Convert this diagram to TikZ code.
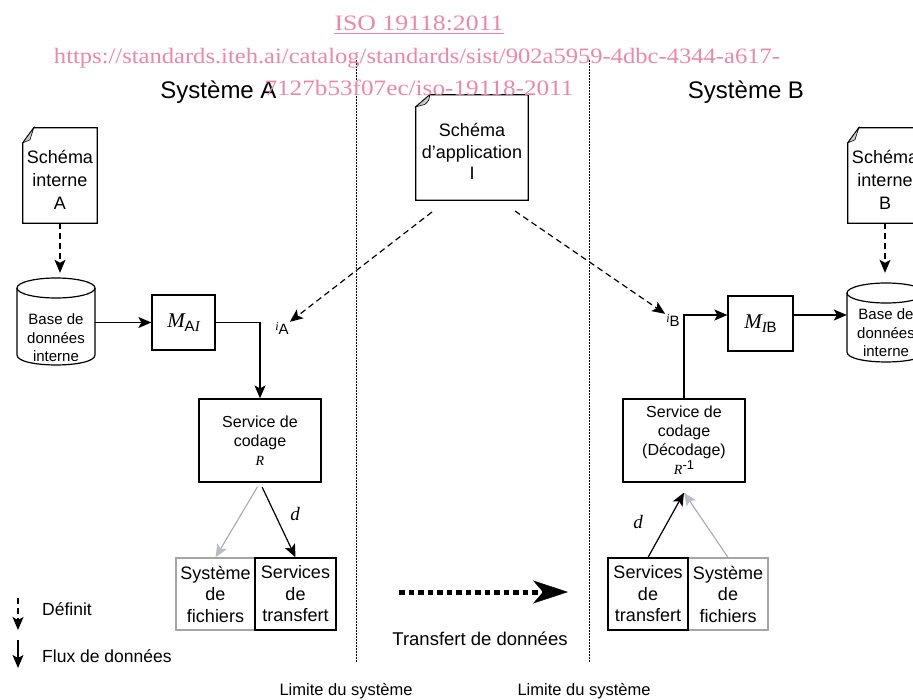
\documentclass[tikz,border=0pt]{standalone}
\usepackage{fontspec}
\usepackage{graphicx}
\setmainfont{Liberation Sans}
\newfontfamily\tms{Liberation Serif}
\usetikzlibrary{arrows.meta,calc}
\definecolor{wmpink}{RGB}{238,134,170}
\definecolor{gline}{RGB}{165,170,178}
\definecolor{ghead}{RGB}{185,190,198}
\definecolor{gbox}{RGB}{165,165,165}
\definecolor{foldc}{RGB}{200,202,208}
\newcommand\fs[2]{\fontsize{#1}{#2}\selectfont}
\newcommand\docpage[3]{%
  \coordinate (#1P) at ($(#1.north west)+(0,#3)$);
  \coordinate (#1Q) at ($(#1.north west)+(#2,0)$);
  \draw[ln] (#1Q) -- (#1.north east) -- (#1.south east) -- (#1.south west) -- (#1P) -- cycle;
  \filldraw[line width=0.6pt, fill=foldc] (#1Q) .. controls ($(#1Q)+(-1,6)$) .. ($(#1P)+(0.65*#2,-0.2*#3)$) -- (#1P) -- cycle;
}
\begin{document}
\begin{tikzpicture}[x=1pt,y=-1pt,
  ln/.style={line width=1.2pt},
  tip/.style={-{Stealth[length=13pt,width=11pt,inset=3pt]}},
  flow/.style={ln, tip},
  defarrow/.style={ln, dash pattern=on 6pt off 4pt, tip},
  gflow/.style={line width=1.1pt, draw=gline, -{Stealth[length=13pt,width=11pt,inset=3pt,color=ghead]}},
  bound/.style={line width=1pt, dash pattern=on 1.5pt off 1.5pt},
  box/.style={draw, line width=1.2pt, inner sep=0, align=center},
  gbx/.style={draw=gbox, line width=1.2pt, inner sep=0, align=center},
  plain/.style={inner sep=0, align=center},
  shapeonly/.style={inner sep=0},
  wmtext/.style={inner sep=0, anchor=base, text=wmpink}
]
\useasboundingbox (0,0) rectangle (913,699);
\clip (0,0) rectangle (913,699);

% titles
\node[plain, anchor=base, font=\fs{24}{24}] (sysA) at (218.5,98) {Système A};
\node[plain, anchor=base, font=\fs{24}{24}] (sysB) at (746,98) {Système B};

% system boundaries
\coordinate (bLt) at (356,60); \coordinate (bLb) at (356,662);
\coordinate (bRt) at (589,60); \coordinate (bRb) at (589,662);
\draw[bound] (bLt) -- (bLb);
\draw[bound] (bRt) -- (bRb);

% documents
\node[shapeonly, minimum width=74pt, minimum height=95pt] (docA) at (60,175.5) {};
\docpage{docA}{11}{15}
\node[plain, font=\fs{18}{23}] (docAt) at (60,179.5) {Schéma\\interne\\A};

\node[shapeonly, minimum width=74pt, minimum height=95pt] (docB) at (885,175.5) {};
\docpage{docB}{11}{15}
\node[plain, font=\fs{18}{23}] (docBt) at (885,179.5) {Schéma\\interne\\B};

\node[shapeonly, minimum width=112pt, minimum height=105pt] (app) at (472,147.5) {};
\docpage{app}{14}{12}
\node[plain, font=\fs{18}{21.5}] (appt) at (472,151.7) {Schéma\\d’application\\I};

% cylinders
\node[shapeonly, minimum width=78pt, minimum height=87pt] (cylA) at (56,321.5) {};
\draw[ln] (17,288) -- (17,355) .. controls (17,368.3) and (95,368.3) .. (95,355) -- (95,288);
\draw[ln] (56,288) ellipse [x radius=39pt, y radius=10pt];
\node[plain, font=\fs{15}{18.5}] (cylAt) at (56,338) {Base de\\données\\interne};

\node[shapeonly, minimum width=78pt, minimum height=79pt] (cylB) at (886,322.5) {};
\draw[ln] (847,293) -- (847,352) .. controls (847,365.3) and (925,365.3) .. (925,352) -- (925,293);
\draw[ln] (886,293) ellipse [x radius=39pt, y radius=10pt];
\node[plain, font=\fs{15}{18.5}] (cylBt) at (886,333) {Base de\\données\\interne};

% mapping boxes
\node[box, minimum width=63pt, minimum height=55pt] (mai) at (183.5,322.5)
  {{\fs{21}{21}\tms\itshape M}\raisebox{-4pt}{\fs{15}{15}A{\tms\itshape I}}};
\node[box, minimum width=65pt, minimum height=55pt] (mib) at (760.5,323.5)
  {{\fs{21}{21}\tms\itshape M}\raisebox{-4pt}{\fs{15}{15}{\tms\itshape I}B}};

% coding services
\node[box, minimum width=122pt, minimum height=83pt, font=\fs{16}{19}] (svcA) at (260,440.5)
  {Service de\\codage\\{\fs{14}{19}\tms\itshape R}};
\node[box, minimum width=122pt, minimum height=83pt, font=\fs{16}{19}] (svcB) at (684,440.5)
  {Service de\\codage\\(Décodage)\\{\fs{14}{19}\tms\itshape R}\raisebox{5pt}{\fs{13}{13}-1}};

% bottom boxes
\node[gbx, minimum width=79pt, minimum height=72pt, font=\fs{18}{21.5}] (fsA) at (215.5,594) {Système\\de\\fichiers};
\node[box, minimum width=81pt, minimum height=72pt, font=\fs{18}{21.5}] (tsA) at (295.5,594) {Services\\de\\transfert};
\node[gbx, minimum width=80pt, minimum height=72pt, font=\fs{18}{21.5}] (fsB) at (728,594) {Système\\de\\fichiers};
\node[box, minimum width=80pt, minimum height=72pt, font=\fs{18}{21.5}] (tsB) at (648,594) {Services\\de\\transfert};

% interface labels
\node[inner sep=1pt] (iA) at (282,329) {\raisebox{4pt}{\fs{12}{12}\tms\itshape i}\fs{15}{15}A};
\node[inner sep=1pt] (iB) at (673,321) {\raisebox{4pt}{\fs{12}{12}\tms\itshape i}\fs{15}{15}B};

% d labels
\node[plain, font=\fs{19}{19}\tms\itshape] (dA) at (295,514) {d};
\node[plain, font=\fs{19}{19}\tms\itshape] (dB) at (638,522) {d};

% connectors
\draw[defarrow, shorten >=5pt] (docA.south) -- (docA.south |- cylA.north);
\draw[defarrow, shorten >=10pt] (docB.south) -- (docB.south |- cylB.north);
\coordinate (appL) at (432,212);
\coordinate (appR) at (515,211);
\draw[defarrow] (appL) -- (iA.north east);
\draw[defarrow] (appR) -- (iB.north west);

\draw[flow] (cylA.east |- mai.west) -- (mai.west);
\draw[flow] (mai.east) -| (svcA.north);

\coordinate (jB) at (684,315);
\draw[flow] (svcB.north) -- (jB) -- (jB -| mib.west);
\draw[flow] (jB -| mib.east) -- (jB -| cylB.west);

\draw[gflow, shorten <=5pt] (svcA.south) -- (fsA.north);
\draw[flow, shorten <=5pt] (svcA.south) -- (tsA.north);

\coordinate (svcBi) at ($(svcB.south)+(0,10)$);
\draw[gflow] (fsB.north) -- (svcBi);
\draw[flow] (tsB.north) -- (svcBi);

% data transfer
\coordinate (trS) at (399,592);
\coordinate (trE) at (568,592);
\draw[line width=5pt, dash pattern=on 5.5pt off 4pt, -{Stealth[length=35pt,width=23pt,inset=10pt,line width=0.5pt]}] (trS) -- (trE);
\node[plain, anchor=base, font=\fs{18.5}{18.5}] (trT) at (480,645) {Transfert de données};

% boundary labels
\node[plain, anchor=base, font=\fs{16.5}{16.5}] (limL) at (346,695) {Limite du système};
\node[plain, anchor=base, font=\fs{16.5}{16.5}] (limR) at (584,695) {Limite du système};

% legend
\coordinate (l1a) at (18,598); \coordinate (l1b) at (18,630);
\coordinate (l2a) at (18,640); \coordinate (l2b) at (18,668);
\draw[defarrow] (l1a) -- (l1b);
\draw[flow] (l2a) -- (l2b);
\node[plain, anchor=base west, font=\fs{17.5}{17.5}] (lgDef) at (42,615) {Définit};
\node[plain, anchor=base west, font=\fs{17.5}{17.5}] (lgFlux) at (42,662.5) {Flux de données};

% watermark
\node[wmtext] (wm1) at (419,30) {\resizebox{169pt}{\height}{\fs{22}{22}\tms ISO 19118:2011}};
\draw[wmpink, line width=1pt] ([yshift=-3pt]wm1.base west) -- ([yshift=-3pt]wm1.base east);
\node[wmtext] (wm2) at (417,63) {\resizebox{726pt}{\height}{\fs{22}{22}\tms https://standards.iteh.ai/catalog/standards/sist/902a5959-4dbc-4344-a617-}};
\node[wmtext] (wm3) at (419,95) {\resizebox{309pt}{\height}{\fs{22}{22}\tms 7127b53f07ec/iso-19118-2011}};
\end{tikzpicture}
\end{document}
